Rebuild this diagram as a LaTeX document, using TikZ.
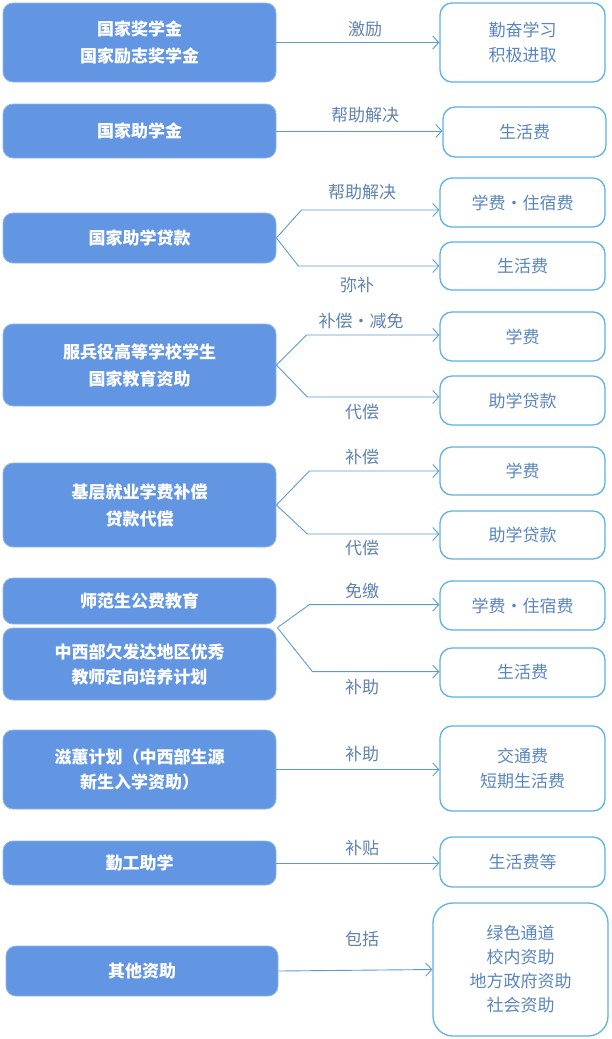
\documentclass[tikz,border=0pt]{standalone}
\usepackage{fontspec}
\setmainfont{Noto Sans CJK SC}
\usetikzlibrary{arrows.meta,calc}
\definecolor{lfill}{HTML}{6296E2}
\definecolor{lborder}{HTML}{8DB6EC}
\definecolor{rborder}{HTML}{5DB2E6}
\definecolor{rtext}{HTML}{5A86C0}
\definecolor{ltxt}{HTML}{5F82AE}
\definecolor{conncol}{HTML}{5B9BD5}
\tikzset{
  lbox/.style={draw=lborder, line width=0.8pt, fill=lfill, rounded corners=10pt, text=white,
    font=\fontsize{17}{27}\selectfont\bfseries, align=center, inner sep=0pt, minimum width=273pt},
  rbox/.style={draw=rborder, line width=1.3pt, fill=white, rounded corners=12pt, text=rtext,
    font=\fontsize{17}{25}\selectfont, align=center, inner sep=0pt, minimum width=165pt},
  lab/.style={text=ltxt, font=\fontsize{17}{20}\selectfont, inner sep=0pt},
  conn/.style={draw=conncol, line width=0.9pt, -{Straight Barb[length=6pt,width=13pt,line width=0.9pt]}},
}
\begin{document}
\begin{tikzpicture}[x=1pt,y=-1pt]
\useasboundingbox (0,0) rectangle (611,1039);
% left boxes
\node[lbox, minimum height=79pt] (L1) at (139.5,42.5) {国家奖学金\\国家励志奖学金};
\node[lbox, minimum height=54pt] (L2) at (139.5,131) {国家助学金};
\node[lbox, minimum height=50pt] (L3) at (139.5,238) {国家助学贷款};
\node[lbox, minimum height=82pt] (L4) at (139.5,365) {服兵役高等学校学生\\国家教育资助};
\node[lbox, minimum height=84pt] (L5) at (139.5,505) {基层就业学费补偿\\贷款代偿};
\node[lbox, minimum height=46pt] (L6) at (139.5,601) {师范生公费教育};
\node[lbox, minimum height=72pt, font=\fontsize{17}{25}\selectfont\bfseries] (L7) at (139.5,664) {中西部欠发达地区优秀\\教师定向培养计划};
\node[lbox, minimum height=79pt, font=\fontsize{17}{25}\selectfont\bfseries] (L8) at (139.5,769.5) {滋蕙计划（中西部生源\\新生入学资助）};
\node[lbox, minimum height=44pt] (L9) at (139.5,863) {勤工助学};
\node[lbox, minimum height=50pt, minimum width=272pt] (L10) at (142,971) {其他资助};
% right boxes
\node[rbox, minimum height=79pt] (R1) at (522.5,42.5) {勤奋学习\\积极进取};
\node[rbox, minimum height=50pt, minimum width=163pt] (R2) at (524.5,132) {生活费};
\node[rbox, minimum height=49pt] (R3) at (522.5,202.5) {学费·住宿费};
\node[rbox, minimum height=48pt] (R4) at (522.5,266) {生活费};
\node[rbox, minimum height=49pt] (R5) at (522.5,336.5) {学费};
\node[rbox, minimum height=49pt] (R6) at (522.5,400.5) {助学贷款};
\node[rbox, minimum height=48pt] (R7) at (522.5,471) {学费};
\node[rbox, minimum height=48pt] (R8) at (522.5,535) {助学贷款};
\node[rbox, minimum height=49pt] (R9) at (522.5,605.5) {学费·住宿费};
\node[rbox, minimum height=49pt] (R10) at (522.5,672.5) {生活费};
\node[rbox, minimum height=85pt] (R11) at (522.5,768.5) {交通费\\短期生活费};
\node[rbox, minimum height=50pt] (R12) at (522.5,862) {生活费等};
\node[rbox, minimum height=133pt, minimum width=175pt, rounded corners=20pt,
  font=\fontsize{17}{24}\selectfont] (R13) at (520.5,969.5) {绿色通道\\校内资助\\地方政府资助\\社会资助};
% connectors
\draw[conn] (L1.east) -- (L1.east -| R1.west);
\draw[conn] (L2.east) -- (L2.east -| R2.west);
\draw[conn] (L3.east) -- ++(25,-28) coordinate (a3) -- (a3 -| R3.west);
\draw[conn] (L3.east) -- ++(22,28) coordinate (b3) -- (b3 -| R4.west);
\draw[conn] (L4.east) -- ++(30,-30) coordinate (a4) -- (a4 -| R5.west);
\draw[conn] (L4.east) -- ++(31,32) coordinate (b4) -- (b4 -| R6.west);
\draw[conn] (L5.east) -- ++(33,-34) coordinate (a5) -- (a5 -| R7.west);
\draw[conn] (L5.east) -- ++(31,29) coordinate (b5) -- (b5 -| R8.west);
\coordinate (c6) at ($(L7.north east)+(1,0)$);
\draw[conn] (c6) -- ++(32,-23) coordinate (a6) -- (a6 -| R9.west);
\draw[conn] (c6) -- ++(35,44) coordinate (b6) -- (b6 -| R10.west);
\draw[conn] (L8.east) -- (L8.east -| R11.west);
\draw[conn] (L9.east) -- (L9.east -| R12.west);
\draw[conn] (L10.east) -- (R13.west);
% labels
\node[lab] (t1) at (365,29) {激励};
\node[lab] (t2) at (365,115) {帮助解决};
\node[lab] (t3) at (362,192) {帮助解决};
\node[lab] (t4) at (357,285) {弥补};
\node[lab] (t5) at (361,321) {补偿·减免};
\node[lab] (t6) at (362,412) {代偿};
\node[lab] (t7) at (362,457) {补偿};
\node[lab] (t8) at (362,548) {代偿};
\node[lab] (t9) at (362,591) {免缴};
\node[lab] (t10) at (362,687) {补助};
\node[lab] (t11) at (362,754) {补助};
\node[lab] (t12) at (362,848) {补贴};
\node[lab] (t13) at (362,939) {包括};
\end{tikzpicture}
\end{document}
